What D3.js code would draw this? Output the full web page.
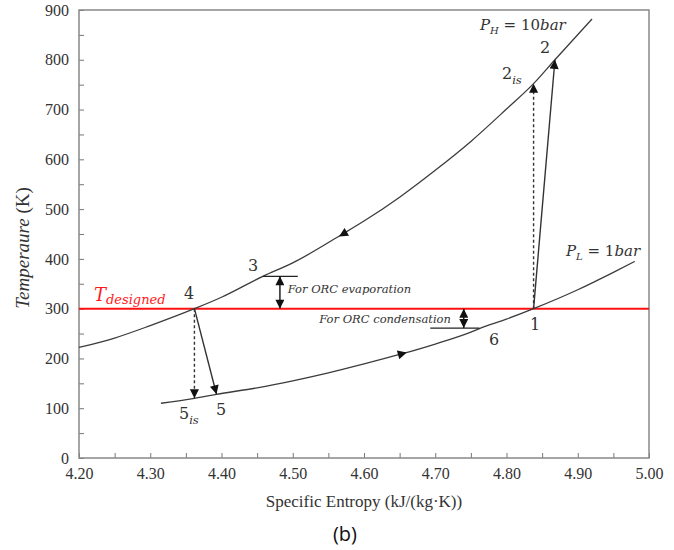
<!DOCTYPE html>
<html>
<head>
<meta charset="utf-8">
<script src="https://cdn.jsdelivr.net/npm/d3@7"></script>
<style>
  body { margin: 0; background: #fff; }
  svg { display: block; }
</style>
</head>
<body>
<div id="chart"></div>
<script>
// values
const highS = [4.20, 4.25, 4.30, 4.362, 4.40, 4.458, 4.50, 4.57, 4.60, 4.65, 4.70, 4.75, 4.80, 4.838, 4.868, 4.92];
const highT = [222, 241, 266, 300, 323, 365, 392, 450, 476, 524, 578, 636, 701, 752, 800, 882];
const lowS = [4.315, 4.362, 4.393, 4.45, 4.50, 4.55, 4.60, 4.65, 4.70, 4.75, 4.762, 4.80, 4.838, 4.90, 4.95, 4.98];
const lowT = [110, 120, 128, 141, 155, 171, 189, 208, 229, 253, 260, 279, 300, 338, 373, 395];
const xTicks = [4.20, 4.30, 4.40, 4.50, 4.60, 4.70, 4.80, 4.90, 5.00];
const yTicks = [0, 100, 200, 300, 400, 500, 600, 700, 800, 900];
const tDesigned = 300;

// process lines: [s0, T0, s1, T1, dashed]
const processLines = [
  [4.838, 300, 4.868, 800, false],
  [4.838, 300, 4.838, 752, true],
  [4.362, 300, 4.393, 128, false],
  [4.362, 300, 4.362, 120, true]
];
// direction arrows on curves: tail -> tip
const curveArrows = [
  [4.59, 466, 4.565, 445],
  [4.63, 200, 4.66, 212]
];

const W = 674, H = 550;
const svg = d3.select("#chart").append("svg").attr("width", W).attr("height", H);
const x = d3.scaleLinear().domain([4.2, 5.0]).range([79, 649]);
const y = d3.scaleLinear().domain([0, 900]).range([458, 10]);

const defs = svg.append("defs");
defs.append("marker")
  .attr("id", "arrow")
  .attr("viewBox", "0 0 10 10")
  .attr("refX", 10).attr("refY", 5)
  .attr("markerWidth", 10).attr("markerHeight", 9)
  .attr("markerUnits", "userSpaceOnUse")
  .attr("orient", "auto-start-reverse")
  .append("path").attr("d", "M0,0L10,5L0,10Z").attr("fill", "#111");

// axes
const serif = "'Liberation Serif', 'Times New Roman', serif";
const yAxis = svg.append("g")
  .attr("transform", "translate(79,0)")
  .call(d3.axisLeft(y).tickValues(d3.range(0, 901, 50)).tickSizeInner(-5).tickSizeOuter(0)
    .tickPadding(10).tickFormat(d => yTicks.includes(d) ? d : ""));
const xAxis = svg.append("g")
  .attr("transform", "translate(0,458)")
  .call(d3.axisBottom(x).tickValues(d3.range(0, 17).map(i => 4.2 + i * 0.05)).tickSizeInner(-5).tickSizeOuter(0)
    .tickPadding(10).tickFormat(d => xTicks.some(v => Math.abs(v - d) < 1e-6) ? d.toFixed(2) : ""));
[xAxis, yAxis].forEach(g => {
  g.select(".domain").remove();
  g.selectAll("line").attr("stroke", "#777");
  g.selectAll("text").attr("font-family", serif).attr("font-size", 16).attr("fill", "#333");
});

// frame
svg.append("rect")
  .attr("x", x(4.2)).attr("y", y(900))
  .attr("width", x(5.0) - x(4.2)).attr("height", y(0) - y(900))
  .attr("fill", "none").attr("stroke", "#888").attr("stroke-width", 1.5);

// T designed line
svg.append("line")
  .attr("x1", x(4.2)).attr("x2", x(5.0))
  .attr("y1", y(tDesigned)).attr("y2", y(tDesigned))
  .attr("stroke", "#ff1010").attr("stroke-width", 2);

// isobars
const line = d3.line().x(d => x(d[0])).y(d => y(d[1])).curve(d3.curveMonotoneX);
svg.append("path").datum(d3.zip(highS, highT))
  .attr("d", line).attr("fill", "none").attr("stroke", "#3c3c3c").attr("stroke-width", 1.3);
svg.append("path").datum(d3.zip(lowS, lowT))
  .attr("d", line).attr("fill", "none").attr("stroke", "#3c3c3c").attr("stroke-width", 1.3);

// process lines
svg.selectAll(".proc").data(processLines).enter().append("line")
  .attr("x1", d => x(d[0])).attr("y1", d => y(d[1]))
  .attr("x2", d => x(d[2])).attr("y2", d => y(d[3]))
  .attr("stroke", "#333").attr("stroke-width", 1.4)
  .attr("stroke-dasharray", d => d[4] ? "3,2.5" : null)
  .attr("marker-end", "url(#arrow)");

svg.selectAll(".carrow").data(curveArrows).enter().append("line")
  .attr("x1", d => x(d[0])).attr("y1", d => y(d[1]))
  .attr("x2", d => x(d[2])).attr("y2", d => y(d[3]))
  .attr("stroke", "none")
  .attr("marker-end", "url(#arrow)");

// ORC evaporation / condensation gaps
const gaps = [
  { s0: 4.458, s1: 4.507, sa: 4.482, T: 365 },
  { s0: 4.693, s1: 4.762, sa: 4.740, T: 261 }
];
gaps.forEach(g => {
  svg.append("line").attr("x1", x(g.s0)).attr("x2", x(g.s1))
    .attr("y1", y(g.T)).attr("y2", y(g.T)).attr("stroke", "#222").attr("stroke-width", 1.2);
  svg.append("line").attr("x1", x(g.sa)).attr("x2", x(g.sa))
    .attr("y1", y(g.T)).attr("y2", y(tDesigned)).attr("stroke", "#111").attr("stroke-width", 1.4)
    .attr("marker-start", "url(#arrow)").attr("marker-end", "url(#arrow)");
});

const noteFont = "'DejaVu Serif', serif";
svg.append("text").attr("x", x(4.493)).attr("y", 293)
  .attr("font-family", noteFont).attr("font-style", "italic").attr("font-size", 11.5).attr("fill", "#333")
  .text("For ORC evaporation");
svg.append("text").attr("x", x(4.722)).attr("y", 323).attr("text-anchor", "end")
  .attr("font-family", noteFont).attr("font-style", "italic").attr("font-size", 11.5).attr("fill", "#333")
  .text("For ORC condensation");

// state point labels
const labelFont = "'DejaVu Serif', serif";
function label(xp, yp, main, sub, size, color, italic) {
  const t = svg.append("text").attr("x", xp).attr("y", yp)
    .attr("font-family", labelFont).attr("font-size", size).attr("fill", color || "#333");
  if (italic) t.attr("font-style", "italic");
  t.append("tspan").text(main);
  if (sub) t.append("tspan").attr("dy", size * 0.3).attr("font-size", size * 0.72).attr("font-style", "italic").text(sub);
  return t;
}
label(540, 53, "2", null, 16);
label(502, 79, "2", "is", 16);
label(248, 271, "3", null, 16);
label(184, 299, "4", null, 16);
label(179, 419, "5", "is", 16);
label(216, 415, "5", null, 16);
label(530, 330, "1", null, 16);
label(489, 345, "6", null, 16);

// T designed label
const td = svg.append("text").attr("x", 94).attr("y", 301)
  .attr("font-family", labelFont).attr("font-style", "italic").attr("font-size", 18).attr("fill", "#ff1a1a");
td.append("tspan").text("T");
td.append("tspan").attr("dy", 3).attr("font-size", 13).text("designed");

// pressure labels
function pLabel(xp, yp, sub, rest) {
  const t = svg.append("text").attr("x", xp).attr("y", yp)
    .attr("font-family", labelFont).attr("font-size", 15).attr("fill", "#333");
  t.append("tspan").attr("font-style", "italic").text("P");
  t.append("tspan").attr("dy", 4).attr("font-size", 10).attr("font-style", "italic").text(sub);
  t.append("tspan").attr("dy", -4).text(" = ");
  t.append("tspan").text(rest[0]);
  t.append("tspan").attr("font-style", "italic").text(rest[1]);
}
pLabel(480, 30, "H", ["10", "bar"]);
pLabel(566, 256, "L", ["1", "bar"]);

// axis titles
const yt = svg.append("text").attr("transform", "translate(29,248) rotate(-90)")
  .attr("text-anchor", "middle").attr("font-family", serif).attr("font-size", 19).attr("fill", "#333");
yt.append("tspan").attr("font-style", "italic").text("Temperaure");
yt.append("tspan").text(" (K)");
svg.append("text").attr("x", 364).attr("y", 507).attr("text-anchor", "middle")
  .attr("font-family", serif).attr("font-size", 17).attr("fill", "#333")
  .text("Specific Entropy (kJ/(kg·K))");
svg.append("text").attr("x", 345).attr("y", 541).attr("text-anchor", "middle")
  .attr("font-family", "'Open Sans', 'Noto Sans', sans-serif").attr("font-size", 20).attr("fill", "#111")
  .text("(b)");
</script>
</body>
</html>
